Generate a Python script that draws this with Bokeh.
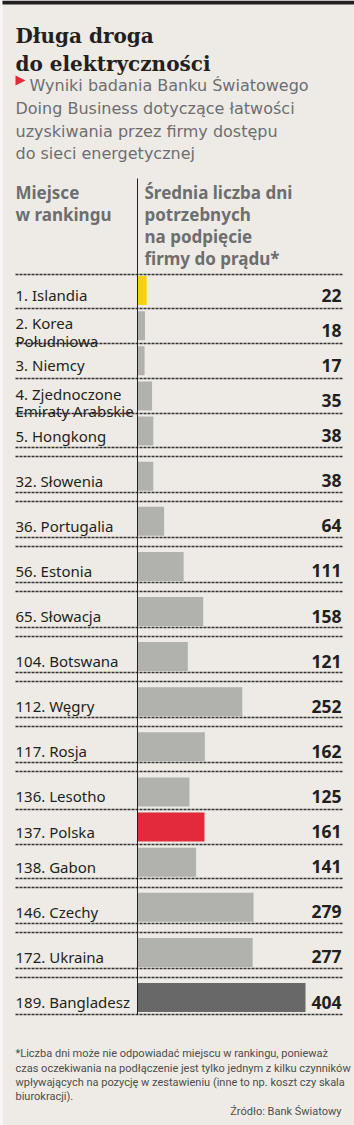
from bokeh.plotting import figure
from bokeh.models import Range1d, Label, ColumnDataSource
from bokeh.embed import file_html
from bokeh.resources import INLINE

# ---- data ----
ranks = [1, 2, 3, 4, 5, 32, 36, 56, 65, 104, 112, 117, 136, 137, 138, 146, 172, 189]
countries = ["Islandia", "Korea\nPołudniowa", "Niemcy", "Zjednoczone\nEmiraty Arabskie",
             "Hongkong", "Słowenia", "Portugalia", "Estonia", "Słowacja", "Botswana",
             "Węgry", "Rosja", "Lesotho", "Polska", "Gabon", "Czechy", "Ukraina", "Bangladesz"]
days = [22, 18, 17, 35, 38, 38, 64, 111, 158, 121, 252, 162, 125, 161, 141, 279, 277, 404]

title_lines = ["Długa droga", "do elektryczności"]
subtitle_lines = ["Wyniki badania Banku Światowego",
                  "Doing Business dotyczące łatwości",
                  "uzyskiwania przez firmy dostępu",
                  "do sieci energetycznej"]
head_left = ["Miejsce", "w rankingu"]
head_right = ["Średnia liczba dni", "potrzebnych", "na podpięcie", "firmy do prądu*"]
footnote = ["*Liczba dni może nie odpowiadać miejscu w rankingu, ponieważ",
            "czas oczekiwania na podłączenie jest tylko jednym z kilku czynników",
            "wpływających na pozycję w zestawieniu (inne to np. koszt czy skala",
            "biurokracji)."]
source = "Źródło: Bank Światowy"

# ---- style / layout ----
W, H = 354, 1125
BG = "#eeebe6"
DARK = "#231f20"
GREY_T = "#6d6e70"
BAR = "#b1b1ad"
X0 = 137.0
K = 168.0 / 404.0
SANS = "Noto Sans"

# tight rows (single separator) after these indices
single_after = {0, 1, 2, 3, 12, 13}
ys = [290.0]
for i in range(1, len(days)):
    ys.append(ys[-1] + (35.15 if (i - 1) in single_after else 45.1))

colors = []
for c in countries:
    if c == "Islandia":
        colors.append("#f5d20c")
    elif c == "Polska":
        colors.append("#e22a3b")
    elif c == "Bangladesz":
        colors.append("#686868")
    else:
        colors.append(BAR)


def dx(px):
    return (px - X0) / K


p = figure(width=W, height=H, output_backend="svg", toolbar_location=None,
           x_range=Range1d(dx(0), dx(W)), y_range=Range1d(H, 0),
           min_border=0, min_border_left=0, min_border_right=0,
           min_border_top=0, min_border_bottom=0)
p.axis.visible = False
p.grid.visible = False
p.outline_line_color = None
p.background_fill_color = BG
p.border_fill_color = BG

# frame decorations
p.quad(left=[dx(0)], right=[dx(2)], top=[0], bottom=[H], color="#f9f8f5", line_color=None)
p.quad(left=[dx(2)], right=[dx(W)], top=[0], bottom=[4], color=DARK, line_color=None)


def lab(x, y, text, size, color=DARK, font=SANS, bold=False, align="left"):
    p.add_layout(Label(x=x, y=y, x_units="screen", y_units="data", text=text,
                       text_font=font, text_font_size=size,
                       text_font_style="bold" if bold else "normal",
                       text_color=color, text_align=align, text_baseline="alphabetic"))


# title
for i, t in enumerate(title_lines):
    lab(15, 35.5 + i * 27.5, t, "20px", DARK, "DejaVu Serif", True)

# subtitle with red triangle
p.patch(x=[dx(15), dx(25), dx(15)], y=[75, 80, 85], color="#e22a3b", line_color=None)
for i, t in enumerate(subtitle_lines):
    lab(29 if i == 0 else 15, 85 + i * 22.8, t, "16px", GREY_T, "DejaVu Sans")

# header
for i, t in enumerate(head_left):
    lab(15, 191.7 + i * 21.8, t, "17px", GREY_T, SANS, True)
for i, t in enumerate(head_right):
    lab(144, 191.7 + i * 22.1, t, "17px", GREY_T, SANS, True)

# separators (dashed)
sep_y = [ys[0] - 16]
for i in range(len(ys) - 1):
    mid = (ys[i] + ys[i + 1]) / 2
    if i in single_after:
        sep_y.append(mid)
    else:
        sep_y.extend([mid - 6.5, mid + 2.5])
sep_y.append(ys[-1] + 16.5)
sep_y = [float(round(v)) for v in sep_y]
n = len(sep_y)
p.segment(x0=[dx(15)] * n, x1=[dx(342)] * n, y0=sep_y, y1=sep_y,
          line_color="#333333", line_width=1.4, line_dash="3 1")

# bars
src = ColumnDataSource(dict(y=ys, d=days, c=colors))
p.hbar(y="y", left=0, right="d", height=29, color="c", line_color=None, source=src)

# vertical axis line
p.segment(x0=[0], x1=[0], y0=[178], y1=[ys[-1] + 17.5], line_color=DARK, line_width=1)

# row labels and values
for r, c, d, y in zip(ranks, countries, days, ys):
    parts = c.split("\n")
    if len(parts) == 1:
        lab(15, y + 4.5, f"{r}. {parts[0]}", "15px")
    else:
        lab(15, y - 2.3, f"{r}. {parts[0]}", "15px")
        lab(15, y + 15, parts[1], "15px")
    lab(341, y + 4.5, str(d), "17.5px", DARK, SANS, True, "right")

# footnote
for i, t in enumerate(footnote):
    lab(15, 1053.3 + i * 14.2, t, "11px", "#4d4d4d", "Roboto")
lab(341, 1110.7, source, "11px", "#4d4d4d", "Roboto", False, "right")

open("out.html", "w").write(file_html(p, INLINE))
